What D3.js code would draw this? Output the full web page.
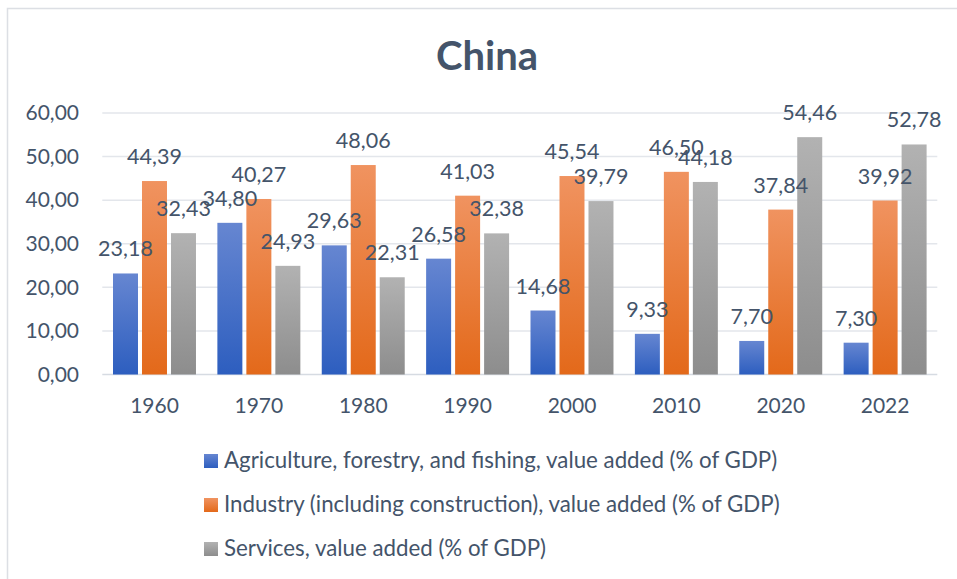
<!DOCTYPE html>
<html>
<head>
<meta charset="utf-8">
<script src="https://cdn.jsdelivr.net/npm/d3@7"></script>
<style>
  body { margin: 0; background: #fff; }
  svg text { font-family: Lato, "Open Sans", sans-serif; fill: #44546a; }
</style>
</head>
<body>
<svg id="chart" width="957" height="579"></svg>
<script>
var years = ["1960", "1970", "1980", "1990", "2000", "2010", "2020", "2022"];
var seriesNames = [
    "Agriculture, forestry, and fishing, value added (% of GDP)",
    "Industry (including construction), value added (% of GDP)",
    "Services, value added (% of GDP)"
];
var agriculture = [23.18, 34.80, 29.63, 26.58, 14.68, 9.33, 7.70, 7.30];
var industry = [44.39, 40.27, 48.06, 41.03, 45.54, 46.50, 37.84, 39.92];
var services = [32.43, 24.93, 22.31, 32.38, 39.79, 44.18, 54.46, 52.78];
var yTicks = [0, 10, 20, 30, 40, 50, 60];

// top / bottom colours of each bar gradient
var gradColors = [
    ["#6686d1", "#2d5ebf"],
    ["#f09360", "#e3691a"],
    ["#b2b2b2", "#8d8d8d"]
];

var svg = d3.select("#chart");
var allSeries = [agriculture, industry, services];

// chart frame
svg.append("rect")
    .attr("x", 7.5).attr("y", 8.5)
    .attr("width", 970).attr("height", 600)
    .attr("fill", "#fff")
    .attr("stroke", "#dcdfe4")
    .attr("stroke-width", 1.5);

var defs = svg.append("defs");
gradColors.forEach(function(c, i) {
    var g = defs.append("linearGradient")
        .attr("id", "grad" + i)
        .attr("x1", 0).attr("y1", 0).attr("x2", 0).attr("y2", 1);
    g.append("stop").attr("offset", "0%").attr("stop-color", c[0]);
    g.append("stop").attr("offset", "100%").attr("stop-color", c[1]);
});

var plot = {left: 102.3, right: 937.3, top: 113, bottom: 374.5};

var x0 = d3.scaleBand()
    .domain(years)
    .range([plot.left, plot.right]);

var x1 = d3.scaleBand()
    .domain([0, 1, 2])
    .range([0, x0.bandwidth()])
    .paddingInner(0.138)
    .paddingOuter(0.369);

var y = d3.scaleLinear()
    .domain([0, 60])
    .range([plot.bottom, plot.top]);

var fmt = function(v) { return v.toFixed(2).replace(".", ","); };

// title
svg.append("text")
    .attr("x", 487).attr("y", 70)
    .attr("text-anchor", "middle")
    .style("font-size", "40px")
    .style("font-weight", "bold")
    .text("China");

// gridlines
svg.append("g").selectAll("line")
    .data(yTicks)
    .enter()
    .append("line")
    .attr("x1", plot.left).attr("x2", plot.right)
    .attr("y1", function(d) { return y(d); })
    .attr("y2", function(d) { return y(d); })
    .attr("stroke", function(d) { return d == 0 ? "#d6dbe2" : "#e3e6eb"; })
    .attr("stroke-width", 1.5);

// y axis labels
var yAxis = d3.axisLeft(y)
    .tickValues(yTicks)
    .tickSize(0)
    .tickPadding(0)
    .tickFormat(fmt);
var yg = svg.append("g")
    .attr("transform", "translate(79,0)")
    .call(yAxis);
yg.select(".domain").remove();
yg.selectAll("text")
    .style("font-size", "21px")
    .style("font-family", null)
    .attr("fill", "#44546a");

// x axis labels
var xAxis = d3.axisBottom(x0).tickSize(0).tickPadding(0);
var xg = svg.append("g")
    .attr("transform", "translate(0,398)")
    .call(xAxis);
xg.select(".domain").remove();
xg.selectAll("text")
    .style("font-size", "21px")
    .style("font-family", null)
    .attr("fill", "#44546a")
    .attr("dy", "0.72em");

// bars
var groups = svg.append("g").selectAll("g")
    .data(years)
    .enter()
    .append("g")
    .attr("transform", function(d) { return "translate(" + x0(d) + ",0)"; });

groups.selectAll("rect")
    .data(function(d, i) {
        return allSeries.map(function(s, k) { return {k: k, v: s[i]}; });
    })
    .enter()
    .append("rect")
    .attr("x", function(d) { return x1(d.k); })
    .attr("width", x1.bandwidth())
    .attr("y", function(d) { return y(d.v); })
    .attr("height", function(d) { return y(0) - y(d.v); })
    .attr("fill", function(d) { return "url(#grad" + d.k + ")"; });

// data labels
groups.selectAll("text.lbl")
    .data(function(d, i) {
        return allSeries.map(function(s, k) { return {k: k, v: s[i]}; });
    })
    .enter()
    .append("text")
    .attr("class", "lbl")
    .attr("x", function(d) { return x1(d.k) + x1.bandwidth() / 2; })
    .attr("y", function(d) { return y(d.v) - 17; })
    .attr("text-anchor", "middle")
    .style("font-size", "21.5px")
    .text(function(d) { return fmt(d.v); });

// legend
var legend = svg.append("g").selectAll("g")
    .data(seriesNames)
    .enter()
    .append("g")
    .attr("transform", function(d, i) { return "translate(204," + (454 + i * 44) + ")"; });

legend.append("rect")
    .attr("width", 14).attr("height", 14)
    .attr("fill", function(d, i) { return "url(#grad" + i + ")"; });

legend.append("text")
    .attr("x", 20).attr("y", 14)
    .style("font-size", "22.3px")
    .text(function(d) { return d; });
</script>
</body>
</html>
